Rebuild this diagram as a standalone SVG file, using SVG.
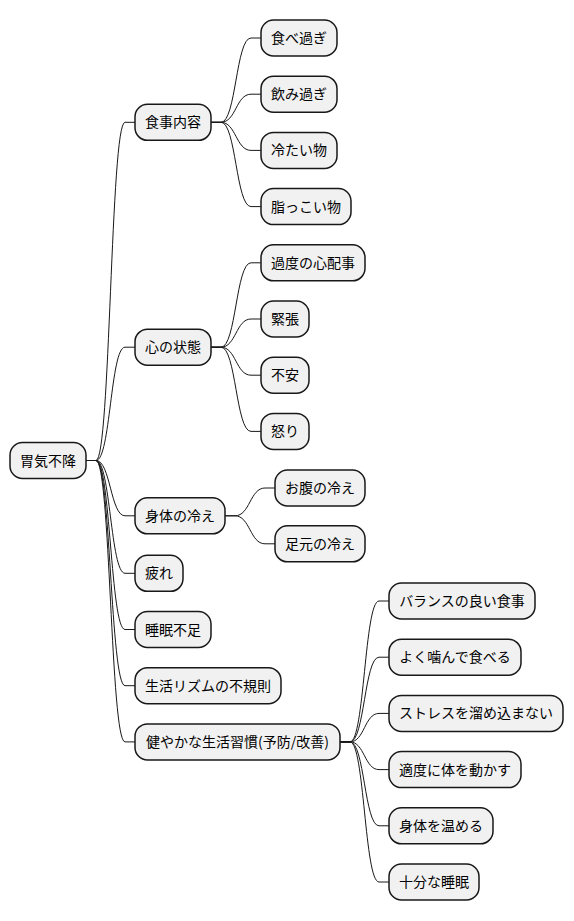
<svg xmlns="http://www.w3.org/2000/svg" width="574" height="921" viewBox="0 0 574 921">
<style>
.n rect{fill:#F1F1F1;stroke:#181818;stroke-width:1.5}
.n text{font-family:"Noto Sans CJK JP","Noto Sans",sans-serif;font-size:14px;fill:#000;text-anchor:middle}
#links path{fill:none;stroke:#181818;stroke-width:1}
</style>
<rect width="574" height="921" fill="#FFFFFF"/>
<g id="links">
<!-- root to level 2: px=86 stub 96, end 125, child 135 -->
<path d="M86 460.5 L96 460.5 C110.5 460.5 110.5 122.3 125 122.3 L135 122.3"/>
<path d="M86 460.5 L96 460.5 C110.5 460.5 110.5 347.2 125 347.2 L135 347.2"/>
<path d="M86 460.5 L96 460.5 C110.5 460.5 110.5 515.8 125 515.8 L135 515.8"/>
<path d="M86 460.5 L96 460.5 C110.5 460.5 110.5 573.3 125 573.3 L135 573.3"/>
<path d="M86 460.5 L96 460.5 C110.5 460.5 110.5 629.5 125 629.5 L135 629.5"/>
<path d="M86 460.5 L96 460.5 C110.5 460.5 110.5 685.7 125 685.7 L135 685.7"/>
<path d="M86 460.5 L96 460.5 C110.5 460.5 110.5 741.9 125 741.9 L135 741.9"/>
<!-- 食事内容 -->
<path d="M211 122.3 L221 122.3 C236 122.3 236 38 251 38 L261 38"/>
<path d="M211 122.3 L221 122.3 C236 122.3 236 94.2 251 94.2 L261 94.2"/>
<path d="M211 122.3 L221 122.3 C236 122.3 236 150.4 251 150.4 L261 150.4"/>
<path d="M211 122.3 L221 122.3 C236 122.3 236 206.6 251 206.6 L261 206.6"/>
<!-- 心の状態 -->
<path d="M211 347.2 L221 347.2 C236 347.2 236 262.8 251 262.8 L261 262.8"/>
<path d="M211 347.2 L221 347.2 C236 347.2 236 319 251 319 L261 319"/>
<path d="M211 347.2 L221 347.2 C236 347.2 236 375.2 251 375.2 L261 375.2"/>
<path d="M211 347.2 L221 347.2 C236 347.2 236 431.4 251 431.4 L261 431.4"/>
<!-- 身体の冷え -->
<path d="M225 515.8 L235 515.8 C250 515.8 250 488 265 488 L275 488"/>
<path d="M225 515.8 L235 515.8 C250 515.8 250 543.8 265 543.8 L275 543.8"/>
<!-- 健やか -->
<path d="M340 741.9 L350 741.9 C364.5 741.9 364.5 601 379 601 L389 601"/>
<path d="M340 741.9 L350 741.9 C364.5 741.9 364.5 657.2 379 657.2 L389 657.2"/>
<path d="M340 741.9 L350 741.9 C364.5 741.9 364.5 713.4 379 713.4 L389 713.4"/>
<path d="M340 741.9 L350 741.9 C364.5 741.9 364.5 769.6 379 769.6 L389 769.6"/>
<path d="M340 741.9 L350 741.9 C364.5 741.9 364.5 825.8 379 825.8 L389 825.8"/>
<path d="M340 741.9 L350 741.9 C364.5 741.9 364.5 882 379 882 L389 882"/>
</g>
<g id="root" class="n"><rect x="10" y="442.5" width="76" height="36" rx="12.5"/><text x="48" y="465.5">胃気不降</text></g>
<g id="shokuji" class="n"><rect x="135" y="104.3" width="76" height="36" rx="12.5"/><text x="173" y="127.3">食事内容</text></g>
<g id="tabesugi" class="n"><rect x="261" y="20" width="76" height="36" rx="12.5"/><text x="299" y="43">食べ過ぎ</text></g>
<g id="nomisugi" class="n"><rect x="261" y="76.2" width="76" height="36" rx="12.5"/><text x="299" y="99.2">飲み過ぎ</text></g>
<g id="tsumetai" class="n"><rect x="261" y="132.4" width="76" height="36" rx="12.5"/><text x="299" y="155.4">冷たい物</text></g>
<g id="aburakkoi" class="n"><rect x="261" y="188.6" width="90" height="36" rx="12.5"/><text x="306" y="211.6">脂っこい物</text></g>
<g id="kokoro" class="n"><rect x="135" y="329.2" width="76" height="36" rx="12.5"/><text x="173" y="352.2">心の状態</text></g>
<g id="shinpai" class="n"><rect x="261" y="244.8" width="104" height="36" rx="12.5"/><text x="313" y="267.8">過度の心配事</text></g>
<g id="kincho" class="n"><rect x="261" y="301" width="48" height="36" rx="12.5"/><text x="285" y="324">緊張</text></g>
<g id="fuan" class="n"><rect x="261" y="357.2" width="48" height="36" rx="12.5"/><text x="285" y="380.2">不安</text></g>
<g id="ikari" class="n"><rect x="261" y="413.4" width="48" height="36" rx="12.5"/><text x="285" y="436.4">怒り</text></g>
<g id="hie" class="n"><rect x="135" y="497.8" width="90" height="36" rx="12.5"/><text x="180" y="520.8">身体の冷え</text></g>
<g id="onaka" class="n"><rect x="275" y="470" width="90" height="36" rx="12.5"/><text x="320" y="493">お腹の冷え</text></g>
<g id="ashimoto" class="n"><rect x="275" y="525.8" width="90" height="36" rx="12.5"/><text x="320" y="548.8">足元の冷え</text></g>
<g id="tsukare" class="n"><rect x="135" y="555.3" width="48" height="36" rx="12.5"/><text x="159" y="578.3">疲れ</text></g>
<g id="suimin" class="n"><rect x="135" y="611.5" width="76" height="36" rx="12.5"/><text x="173" y="634.5">睡眠不足</text></g>
<g id="rhythm" class="n"><rect x="135" y="667.7" width="146" height="36" rx="12.5"/><text x="208" y="690.7">生活リズムの不規則</text></g>
<g id="sukoyaka" class="n"><rect x="135" y="723.9" width="205" height="36" rx="12.5"/><text x="237.5" y="746.9">健やかな生活習慣(予防/改善)</text></g>
<g id="balance" class="n"><rect x="389" y="583" width="146" height="36" rx="12.5"/><text x="462" y="606">バランスの良い食事</text></g>
<g id="kamu" class="n"><rect x="389" y="639.2" width="132" height="36" rx="12.5"/><text x="455" y="662.2">よく噛んで食べる</text></g>
<g id="stress" class="n"><rect x="389" y="695.4" width="174" height="36" rx="12.5"/><text x="476" y="718.4">ストレスを溜め込まない</text></g>
<g id="undo" class="n"><rect x="389" y="751.6" width="132" height="36" rx="12.5"/><text x="455" y="774.6">適度に体を動かす</text></g>
<g id="atatameru" class="n"><rect x="389" y="807.8" width="104" height="36" rx="12.5"/><text x="441" y="830.8">身体を温める</text></g>
<g id="jubun" class="n"><rect x="389" y="864" width="90" height="36" rx="12.5"/><text x="434" y="887">十分な睡眠</text></g>
</svg>
